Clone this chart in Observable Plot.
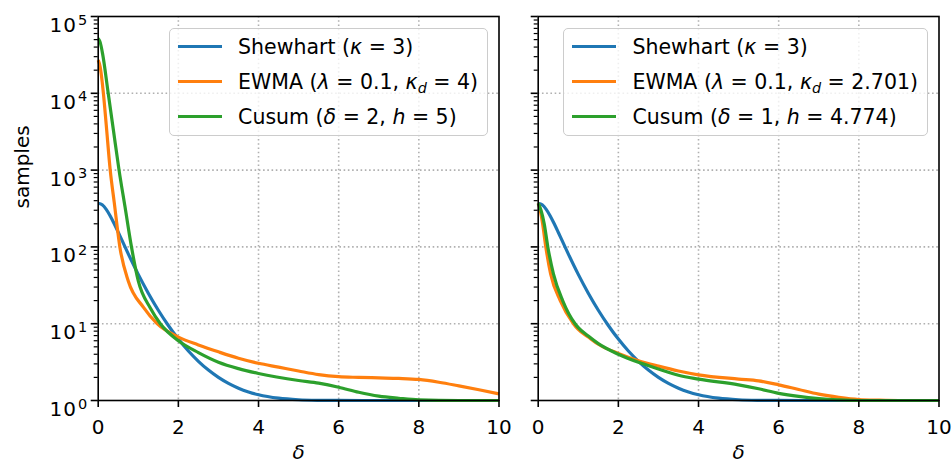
<!DOCTYPE html>
<html>
<head>
<meta charset="utf-8">
<script src="https://cdn.jsdelivr.net/npm/d3@7"></script>
<script src="https://cdn.jsdelivr.net/npm/@observablehq/plot@0.6"></script>
<style>
  body { margin: 0; background: #fff; font-family: "DejaVu Sans", sans-serif; }
  #wrap { position: relative; width: 952px; height: 470px; overflow: hidden; }
  .panel { position: absolute; top: 0; }
  .legend {
    position: absolute; top: 27.7px;
    border: 1.6px solid #cccccc; border-radius: 5px;
    background: rgba(255,255,255,0.8);
    padding: 0.5px 9px 0.5px 8px;
    font-family: "DejaVu Sans", sans-serif; font-size: 20.5px; color: #000;
  }
  .row { height: 35px; display: flex; align-items: center; white-space: nowrap; }
  .swatch { display: inline-block; width: 44px; height: 0; border-top: 3.2px solid; margin-right: 16px; }
  .legend i { font-style: italic; }
  .legend sub { font-size: 0.7em; vertical-align: -0.3em; line-height: 0; }
</style>
</head>
<body>
<div id="wrap"></div>
<script>
// ---------------- data ----------------
const seriesNames = ["Shewhart", "EWMA", "Cusum"];
const seriesColors = ["#1f77b4", "#ff7f0e", "#2ca02c"];

// Shewhart (kappa = 3) - same curve in both panels
const shewX = [0, 0.1, 0.2, 0.3, 0.4, 0.5, 0.6, 0.75, 1, 1.25, 1.5, 1.75, 2, 2.25, 2.5, 2.75, 3, 3.25, 3.5, 3.75, 4, 4.5, 5, 5.5, 6, 7, 8, 9, 10];
const shewY = [370.4, 352.9, 308.4, 253, 200, 155.2, 119.6, 81.2, 43.9, 24.96, 14.97, 9.47, 6.3, 4.41, 3.24, 2.49, 2.0, 1.67, 1.446, 1.293, 1.189, 1.072, 1.023, 1.006, 1.001, 1, 1, 1, 1];

// Left panel: EWMA (lambda=0.1, kappa_d=4)
const ewmaLX = [0, 0.05, 0.1, 0.13, 0.2, 0.3, 0.4, 0.54, 0.75, 1.13, 1.47, 2, 2.5, 3, 3.5, 4, 4.5, 5, 5.5, 6, 6.5, 7, 7.5, 8, 8.5, 9, 9.5, 10];
const ewmaLY = [27000, 22000, 14000, 10000, 3900, 1000, 380, 100, 36, 16.3, 10, 6.7, 5.3, 4.3, 3.55, 3.05, 2.72, 2.42, 2.17, 2.04, 2.0, 1.97, 1.94, 1.88, 1.73, 1.55, 1.38, 1.22];

// Left panel: Cusum (delta=2, h=5)
const cusumLX = [0, 0.05, 0.11, 0.25, 0.38, 0.52, 0.67, 0.83, 1.0, 1.3, 1.55, 2, 2.5, 3, 3.5, 4, 5, 5.5, 6, 6.5, 7, 7.5, 8, 9, 10];
const cusumLY = [52000, 46000, 32600, 10000, 3300, 1000, 330, 100, 36, 16, 10, 6.0, 4.2, 3.15, 2.6, 2.25, 1.82, 1.68, 1.49, 1.28, 1.14, 1.07, 1.02, 1.0, 1.0];

// Right panel: EWMA (lambda=0.1, kappa_d=2.701)
const ewmaRX = [0, 0.05, 0.11, 0.19, 0.31, 0.55, 0.88, 1.0, 1.25, 1.5, 2, 2.5, 3, 3.5, 4, 5, 5.5, 6, 6.5, 7, 7.5, 8, 8.5, 9, 10];
const ewmaRY = [370, 300, 200, 100, 44.5, 20, 10, 8.4, 6.7, 5.4, 4.1, 3.3, 2.8, 2.42, 2.16, 1.9, 1.8, 1.6, 1.39, 1.21, 1.1, 1.03, 1.01, 1.0, 1.0];

// Right panel: Cusum (delta=1, h=4.774)
const cusumRX = [0, 0.07, 0.15, 0.24, 0.38, 0.61, 0.92, 1.0, 1.25, 1.5, 2, 2.5, 3, 3.5, 4, 5, 5.5, 6, 6.5, 7, 7.5, 8, 9, 10];
const cusumRY = [370, 300, 200, 100, 44.5, 20, 10, 8.9, 6.9, 5.5, 4.0, 3.14, 2.57, 2.13, 1.9, 1.6, 1.42, 1.24, 1.13, 1.06, 1.02, 1.0, 1.0, 1.0];

const xTicks = [0, 2, 4, 6, 8, 10];
const xGridTicks = [2, 4, 6, 8];
const yMajor = [1, 10, 100, 1000, 10000, 100000];
const yTickBase = "10";
const yTickExp = ["0", "1", "2", "3", "4", "5"];
const yMinor = [];
for (const dec of [1, 10, 100, 1000, 10000]) for (let k = 2; k <= 9; k++) yMinor.push(dec * k);

const leftLabels = [
  'Shewhart (<i>κ</i> = 3)',
  'EWMA (<i>λ</i> = 0.1, <i>κ<sub>d</sub></i> = 4)',
  'Cusum (<i>δ</i> = 2, <i>h</i> = 5)'
];
const rightLabels = [
  'Shewhart (<i>κ</i> = 3)',
  'EWMA (<i>λ</i> = 0.1, <i>κ<sub>d</sub></i> = 2.701)',
  'Cusum (<i>δ</i> = 1, <i>h</i> = 4.774)'
];

// ---------------- build ----------------
function rows(xs, ys, name) { return xs.map((x, i) => ({x, y: ys[i], series: name})); }
const leftData = [...rows(shewX, shewY, "Shewhart"), ...rows(ewmaLX, ewmaLY, "EWMA"), ...rows(cusumLX, cusumLY, "Cusum")];
const rightData = [...rows(shewX, shewY, "Shewhart"), ...rows(ewmaRX, ewmaRY, "EWMA"), ...rows(cusumRX, cusumRY, "Cusum")];

const gridStyle = {stroke: "#b0b0b0", strokeOpacity: 1, strokeWidth: 1.6, strokeDasharray: "1.6,2.64"};

function panel(data, opts) {
  return Plot.plot({
    width: opts.width, height: 470,
    marginLeft: opts.marginLeft, marginRight: opts.marginRight, marginTop: 16, marginBottom: 70,
    style: {fontFamily: "DejaVu Sans, sans-serif", fontSize: "20px", color: "#000", background: "transparent", overflow: "visible"},
    x: {domain: [0, 10]},
    y: {type: "log", domain: [1, 100000]},
    color: {domain: seriesNames, range: seriesColors},
    marks: [
      Plot.gridX(xGridTicks, gridStyle),
      Plot.gridY(yMajor.slice(1, -1), gridStyle),
      Plot.line(data, {x: "x", y: "y", stroke: "series", z: "series", strokeWidth: 3.2, curve: "monotone-x", strokeLinecap: "butt"}),
      Plot.frame({stroke: "#000", strokeWidth: 1.6}),
      Plot.axisX({ticks: xTicks, tickSize: 7, tickPadding: 12, strokeWidth: 1.6, label: null, tickFormat: d => String(d), fill: "#000", fontSize: 20}),
      Plot.axisY({ticks: yMajor, tickSize: 7, tickPadding: 4, strokeWidth: 1.6, label: null, fill: "#000", fontSize: 20,
        tickFormat: opts.yLabels ? (d => "E" + yTickExp[yMajor.indexOf(d)]) : (() => "")}),
      Plot.axisY({ticks: yMinor, tickSize: 4, strokeWidth: 1.2, label: null, tickFormat: () => ""}),
      ...(opts.yLabels ? [Plot.text(["samples"], {text: d => d, frameAnchor: "left", dx: -76, rotate: -90, fontSize: 20, fill: "#000"})] : []),
      Plot.text(["δ"], {text: d => d, frameAnchor: "bottom", dy: 58, fontSize: 20, fontStyle: "italic", fill: "#000"})
    ]
  });
}

// turn "E5" tick labels into 10 with a superscript exponent
function superscriptTicks(svg) {
  const NS = "http://www.w3.org/2000/svg";
  svg.querySelectorAll("text").forEach(t => {
    const s = t.textContent;
    if (!/^E\d$/.test(s)) return;
    const exp = s.slice(1);
    t.textContent = "";
    t.setAttribute("dy", "0.45em");
    const a = document.createElementNS(NS, "tspan");
    a.textContent = yTickBase;
    a.setAttribute("letter-spacing", "1px");
    const b = document.createElementNS(NS, "tspan");
    b.textContent = exp;
    b.setAttribute("font-size", "14.5px");
    b.setAttribute("dx", "1");
    b.setAttribute("dy", "-0.5em");
    t.appendChild(a); t.appendChild(b);
  });
}

const wrap = document.getElementById("wrap");
const leftChart = panel(leftData, {width: 518, marginLeft: 97.7, marginRight: 19.5, yLabels: true});
superscriptTicks(leftChart);
const rightChart = panel(rightData, {width: 434, marginLeft: 19.7, marginRight: 13.5, yLabels: false});
const ld = document.createElement("div"); ld.className = "panel"; ld.style.left = "0px"; ld.appendChild(leftChart);
const rd = document.createElement("div"); rd.className = "panel"; rd.style.left = "518px"; rd.appendChild(rightChart);
wrap.appendChild(ld); wrap.appendChild(rd);

function legend(labels, rightPx) {
  const box = document.createElement("div");
  box.className = "legend";
  box.style.right = rightPx + "px";
  labels.forEach((lab, i) => {
    const r = document.createElement("div");
    r.className = "row";
    const sw = document.createElement("span");
    sw.className = "swatch"; sw.style.borderTopColor = seriesColors[i];
    const t = document.createElement("span");
    t.innerHTML = lab;
    r.appendChild(sw); r.appendChild(t);
    box.appendChild(r);
  });
  wrap.appendChild(box);
}
legend(leftLabels, 952 - 488);
legend(rightLabels, 952 - 928);
</script>
</body>
</html>
